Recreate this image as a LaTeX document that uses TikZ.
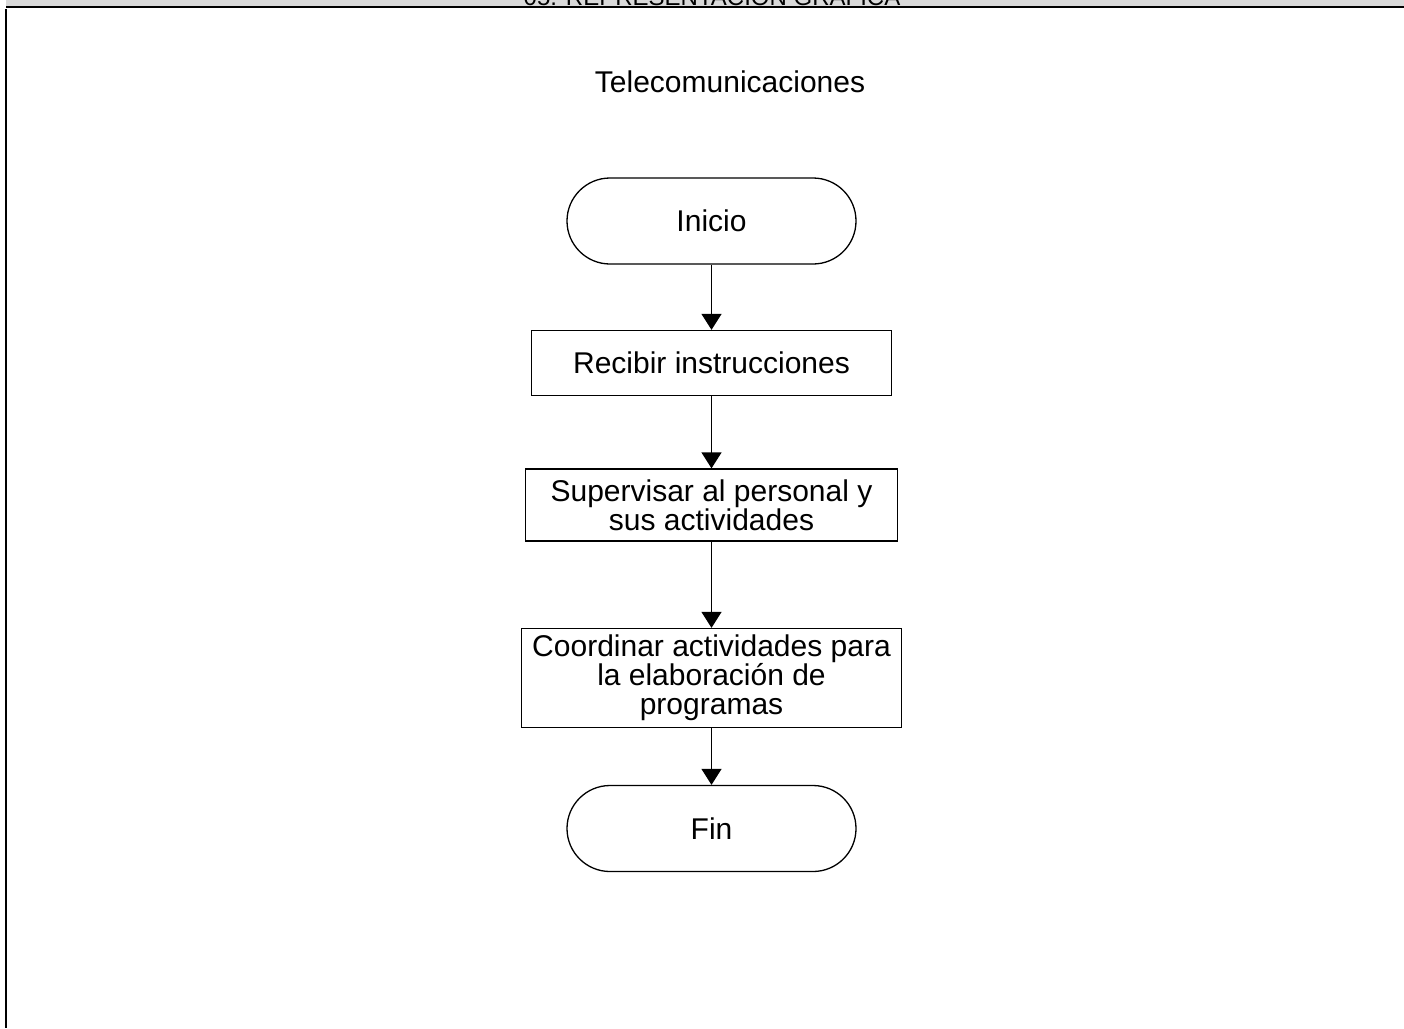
\documentclass[tikz,border=0pt]{standalone}
\usepackage{fontspec}
\setmainfont{Liberation Sans}
\usetikzlibrary{arrows.meta}

\begin{document}
\begin{tikzpicture}[x=1pt,y=-1pt,
  box/.style={draw,line width=1.3pt,align=center,font=\fontsize{30}{29}\selectfont,inner sep=0pt},
  term/.style={box,rounded corners=43pt,minimum width=289pt,minimum height=86pt},
  flow/.style={line width=1.3pt,-{Triangle[width=20pt,length=16pt]}}]
\useasboundingbox (0,0) rectangle (1404,1028);
\clip (0,0) rectangle (1404,1028);
%header
\fill [black!15] (6,-20) rectangle (1404,6);
\node [font=\fontsize{24}{24}\selectfont,anchor=base] (head) at (712,5) {05. REPRESENTACIÓN GRÁFICA};
\draw [line width=2pt] (6,7) -- (1404,7);
\draw [line width=1.5pt] (6,9) -- (6,1028);
%title
\node [font=\fontsize{30}{30}\selectfont] (title) at (730,82) {Telecomunicaciones};
%chart
\node [term] (inicio) at (711.5,221) {Inicio};
\node [box,minimum width=360pt,minimum height=65pt] (recibir) at (711.5,363) {Recibir instrucciones};
\node [box,minimum width=372pt,minimum height=72pt] (supervisar) at (711.5,505) {Supervisar al personal y\\sus actividades};
\node [box,minimum width=380pt,minimum height=99pt] (coordinar) at (711.5,678) {Coordinar actividades para\\la elaboración de\\programas};
\node [term] (fin) at (711.5,828.5) {Fin};
\draw [flow] (inicio) -- (recibir);
\draw [flow] (recibir) -- (supervisar);
\draw [flow] (supervisar) -- (coordinar);
\draw [flow] (coordinar) -- (fin);
\end{tikzpicture}
\end{document}
